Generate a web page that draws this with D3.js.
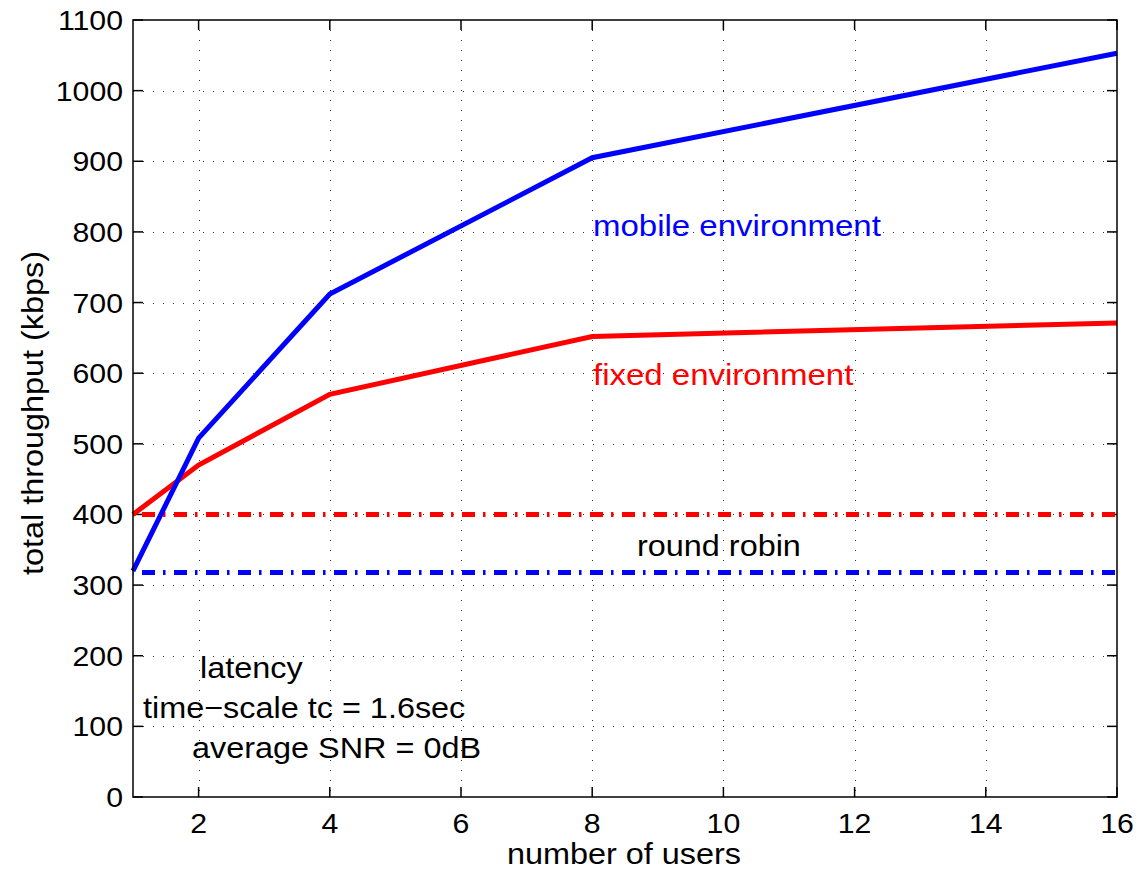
<!DOCTYPE html>
<html>
<head>
<meta charset="utf-8">
<script src="https://cdn.jsdelivr.net/npm/d3@7"></script>
<style>
  body { margin: 0; background: #fff; }
  text { font-family: "Liberation Sans", Arial, Helvetica, sans-serif; }
</style>
</head>
<body>
<div id="chart"></div>
<script>
// data
const users = [1, 2, 4, 8, 16];
const mobileThroughput = [320, 508, 712, 905, 1053];
const fixedThroughput = [400, 470, 570, 652, 671];
const roundRobinFixed = 400;
const roundRobinMobile = 318;
const xTicks = [2, 4, 6, 8, 10, 12, 14, 16];
const yTicks = [0, 100, 200, 300, 400, 500, 600, 700, 800, 900, 1000, 1100];

const width = 1142, height = 875;
const margin = {top: 20, right: 25, bottom: 78, left: 133};
const stretch = 1.08; // the text in the figure is a bit wider than plain Arial

const svg = d3.select("#chart").append("svg")
  .attr("width", width)
  .attr("height", height)
  .style("background", "#fff");

const x = d3.scaleLinear().domain([1, 16]).range([margin.left, width - margin.right]);
const y = d3.scaleLinear().domain([0, 1100]).range([height - margin.bottom, margin.top]);

const x0 = x.range()[0], x1 = x.range()[1];
const yb = y.range()[0], yt = y.range()[1];

// dotted grid
const grid = svg.append("g")
  .attr("stroke", "#333")
  .attr("stroke-width", 1)
  .attr("stroke-dasharray", "1,9");
grid.selectAll(".gx").data(xTicks.filter(d => d < 16)).join("line")
  .attr("x1", d => Math.round(x(d)) + 0.5).attr("x2", d => Math.round(x(d)) + 0.5)
  .attr("y1", yt).attr("y2", yb);
grid.selectAll(".gy").data(yTicks.filter(d => d > 0 && d < 1100)).join("line")
  .attr("y1", d => Math.round(y(d)) + 0.5).attr("y2", d => Math.round(y(d)) + 0.5)
  .attr("x1", x0).attr("x2", x1);

// ticks on all four sides, pointing in
const tickLen = 10;
const ticks = svg.append("g").attr("stroke", "#000").attr("stroke-width", 1.5);
ticks.selectAll(".tb").data(xTicks).join("line")
  .attr("x1", d => x(d)).attr("x2", d => x(d)).attr("y1", yb).attr("y2", yb - tickLen);
ticks.selectAll(".tt").data(xTicks).join("line")
  .attr("x1", d => x(d)).attr("x2", d => x(d)).attr("y1", yt).attr("y2", yt + tickLen);
ticks.selectAll(".tl").data(yTicks).join("line")
  .attr("y1", d => y(d)).attr("y2", d => y(d)).attr("x1", x0).attr("x2", x0 + tickLen);
ticks.selectAll(".tr").data(yTicks).join("line")
  .attr("y1", d => y(d)).attr("y2", d => y(d)).attr("x1", x1).attr("x2", x1 - tickLen);

// round robin dash-dot lines
const dashDot = "13,8,2.5,8.5";
[[roundRobinFixed, "#ff0000"], [roundRobinMobile, "#0000ff"]].forEach(([v, c]) => {
  svg.append("line")
    .attr("x1", x0).attr("x2", x1)
    .attr("y1", y(v)).attr("y2", y(v))
    .attr("stroke", c)
    .attr("stroke-width", 5)
    .attr("stroke-dasharray", dashDot)
    .attr("stroke-dashoffset", 23);
});

// throughput curves
const line = d3.line().x(d => x(d[0])).y(d => y(d[1]));
svg.append("path")
  .datum(users.map((u, i) => [u, fixedThroughput[i]]))
  .attr("d", line)
  .attr("fill", "none").attr("stroke", "#ff0000").attr("stroke-width", 5);
svg.append("path")
  .datum(users.map((u, i) => [u, mobileThroughput[i]]))
  .attr("d", line)
  .attr("fill", "none").attr("stroke", "#0000ff").attr("stroke-width", 5);

// axes box
svg.append("rect")
  .attr("x", x0).attr("y", yt)
  .attr("width", x1 - x0).attr("height", yb - yt)
  .attr("fill", "none").attr("stroke", "#000").attr("stroke-width", 1.5);

// helper for the slightly wide text
function label(str, tx, ty, opts = {}) {
  const rot = opts.rotate ? ` rotate(${opts.rotate})` : "";
  return svg.append("text")
    .attr("transform", `translate(${tx},${ty})${rot} scale(${opts.sx || stretch},1)`)
    .attr("text-anchor", opts.anchor || "start")
    .attr("font-size", opts.size || 30)
    .attr("fill", opts.color || "#000")
    .text(str);
}

// tick labels
xTicks.forEach(d => label(d, x(d), 833, {anchor: "middle", size: 28}));
yTicks.forEach(d => label(d, 123, y(d) + 10, {anchor: "end", size: 28}));

// axis titles
label("number of users", 624, 864, {anchor: "middle"});
label("total throughput (kbps)", 43, 413, {anchor: "middle", rotate: -90});

// annotations
label("mobile environment", 593, 236, {color: "#0000ff", sx: 1.1});
label("fixed environment", 593, 385, {color: "#ff0000", sx: 1.1});
label("round robin", 637, 556);
label("latency", 200, 678);
label("time\u2212scale tc = 1.6sec", 143, 718);
label("average SNR = 0dB", 192, 758);
</script>
</body>
</html>
